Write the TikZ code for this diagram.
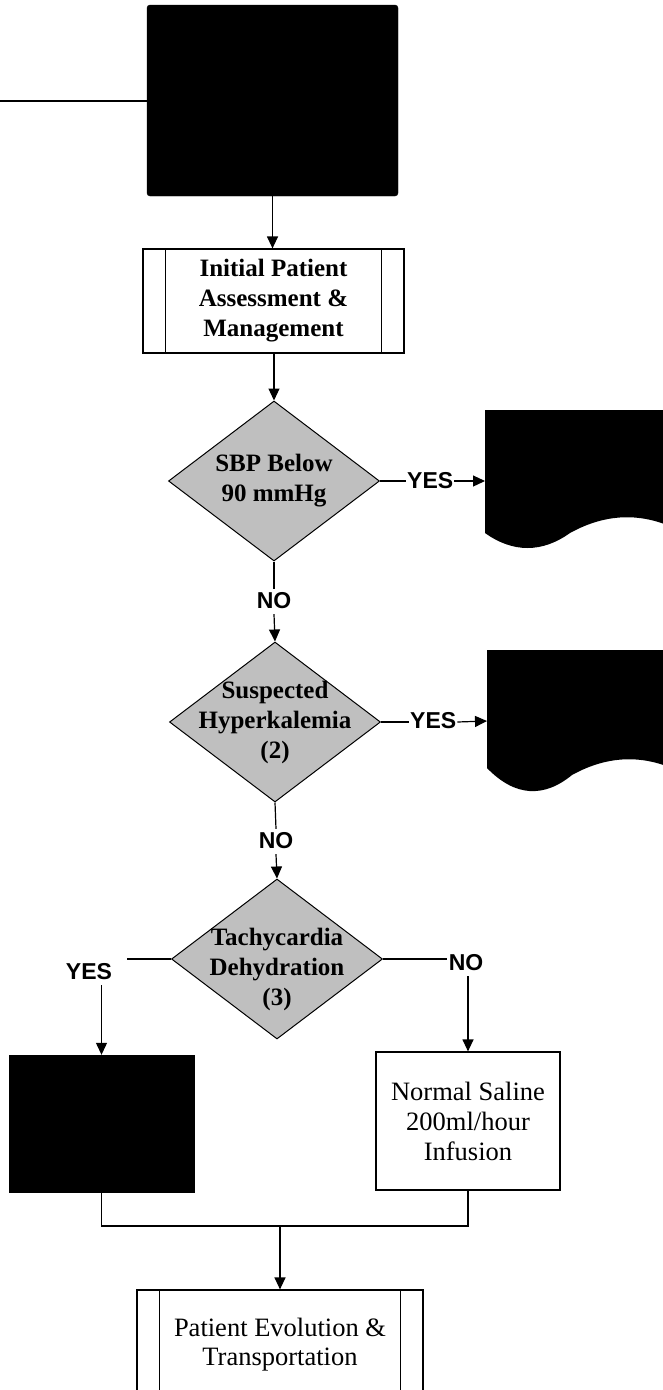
\documentclass[tikz,border=0pt]{standalone}
\usepackage{fontspec}
\setmainfont{Liberation Serif}
\newfontfamily\labelfont{Liberation Sans}
\usetikzlibrary{arrows.meta,shapes.geometric}
\begin{document}
\begin{tikzpicture}[x=1pt,y=-1pt,
  line/.style={line width=1.2pt},
  arr/.style={line width=1.2pt,-{Triangle[length=12pt,width=11pt]}},
  boldtxt/.style={font=\bfseries\fontsize{25}{30}\selectfont,align=center,inner sep=0pt},
  plaintxt/.style={font=\fontsize{26.5}{30}\selectfont,align=center},
  procbox/.style={draw,line width=1.2pt,inner sep=0pt},
  blackbox/.style={fill=black,draw=black,inner sep=0pt},
  decision/.style={diamond,draw,line width=1pt,fill=black!25,inner sep=0pt,
                   minimum width=211pt,minimum height=160pt},
  yn/.style={font=\labelfont\bfseries\fontsize{23}{26}\selectfont,
             inner xsep=1pt,inner ysep=2pt,text height=17pt,text depth=4pt}
]
\useasboundingbox (0,0) rectangle (663,1390);
\clip (0,0) rectangle (663,1390);

% entry box and incoming line
\node[blackbox,rounded corners=3pt,minimum width=251pt,minimum height=191pt] (start) at (272.5,100.5) {};
\coordinate (feed) at (0,101);
\draw[line] (feed) -- (feed -| start.west);

% initial assessment (predefined process)
\node[procbox,boldtxt,minimum width=261pt,minimum height=104pt] (init) at (273.5,301)
  {Initial Patient\\Assessment \&\\Management};
\draw[line] ([xshift=23pt]init.north west) -- ([xshift=23pt]init.south west);
\draw[line] ([xshift=-23pt]init.north east) -- ([xshift=-23pt]init.south east);
\draw[arr] (start.south) -- (start.south |- init.north);

% decision 1
\node[decision,label={[boldtxt]center:{SBP Below\\90 mmHg}}] (d1) at (274,481) {};
\draw[arr] (init.south -| d1.north) -- (d1.north);
\node[yn,anchor=base west] (yes1) at (406,488) {YES};
\draw[line] (d1.east) -- (d1.east -| yes1.west);
\coordinate (docA) at (485,481);
\draw[arr] (d1.east -| yes1.east) -- (docA);
\fill (485,410) -- (700,410) -- (700,533) -- (684,533)
  .. controls (646,512) and (608,512) .. (570,533)
  .. controls (542,553) and (513,553) .. (485,533) -- cycle;

% decision 2
\node[yn,anchor=base] (no1) at (274,608) {NO};
\node[decision,label={[boldtxt]center:{Suspected\\Hyperkalemia\\(2)}}] (d2) at (275,722) {};
\draw[line] (d1.south) -- (no1.north);
\draw[arr] (no1.south) -- (d2.north);
\node[yn,anchor=base west] (yes2) at (409,728) {YES};
\draw[line] (d2.east) -- (d2.east -| yes2.west);
\coordinate (docB) at (487,721);
\draw[arr] (d2.east -| yes2.east) -- (docB);
\fill (487,650) -- (700,650) -- (700,775) -- (686,775)
  .. controls (648,754) and (610,754) .. (572,775)
  .. controls (544,798) and (515,797) .. (487,768) -- cycle;

% decision 3
\node[yn,anchor=base] (no2) at (276,848) {NO};
\node[decision,label={[boldtxt,yshift=-10pt]center:{Tachycardia\\Dehydration\\(3)}}] (d3) at (277,959) {};
\draw[line] (d2.south) -- (no2.north);
\draw[arr] (no2.south) -- (d3.north);

% yes branch
\node[blackbox,minimum width=185pt,minimum height=137pt] (act) at (101.5,1123.5) {};
\node[yn,anchor=base] (yes3) at (89,979) {YES};
\coordinate (ly) at (127,959);
\draw[line] (d3.west) -- (ly);
\draw[arr] (yes3.south -| act.north) -- (act.north);

% no branch
\node[procbox,plaintxt,minimum width=184pt,minimum height=138pt] (saline) at (468,1121)
  {Normal Saline\\200ml/hour\\Infusion};
\node[yn,anchor=base] (no3) at (466,970) {NO};
\coordinate (ry) at (447,959);
\draw[line] (d3.east) -- (ry);
\draw[arr] (no3.south -| saline.north) -- (saline.north);

% merge and final step
\coordinate (m) at (280,1226);
\draw[line] (act.south) |- (m) -| (saline.south);
\node[procbox,font=\fontsize{26.5}{29}\selectfont,align=center,minimum width=286pt,minimum height=110pt] (evo) at (280,1345)
  {Patient Evolution \&\\Transportation};
\draw[line] ([xshift=23pt]evo.north west) -- ([xshift=23pt]evo.south west);
\draw[line] ([xshift=-23pt]evo.north east) -- ([xshift=-23pt]evo.south east);
\draw[arr] (m) -- (evo.north);
\end{tikzpicture}
\end{document}
